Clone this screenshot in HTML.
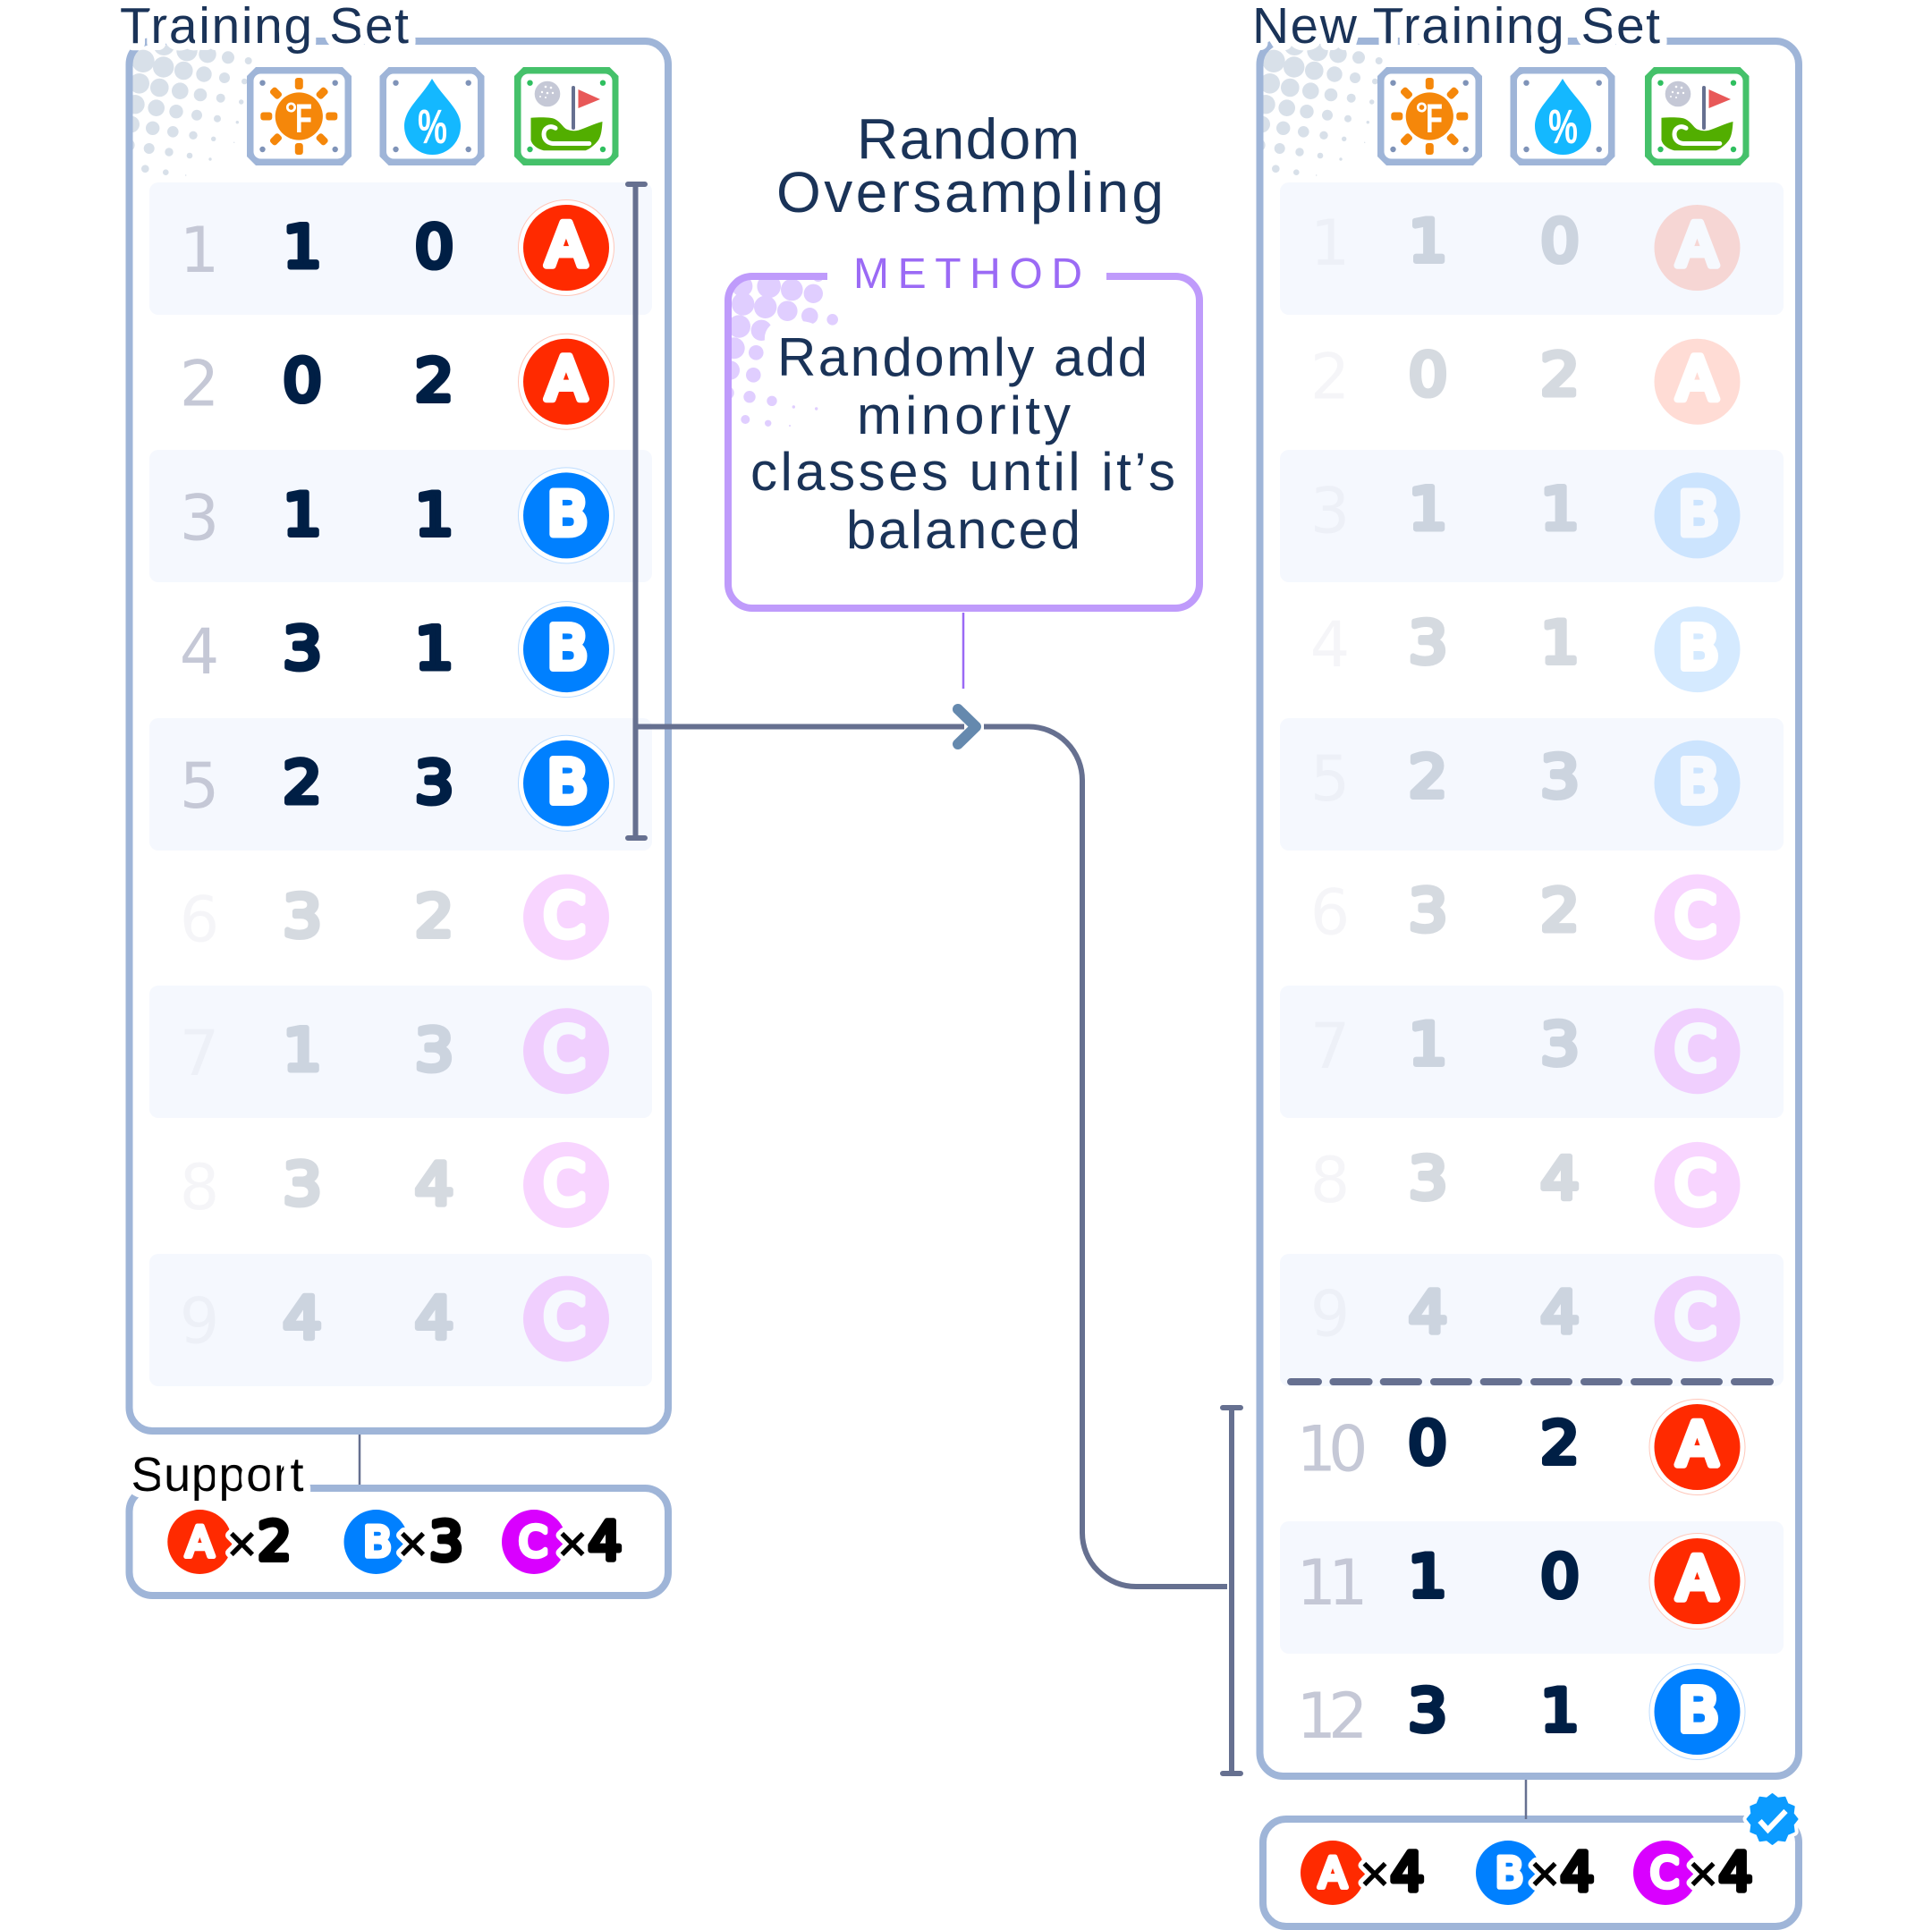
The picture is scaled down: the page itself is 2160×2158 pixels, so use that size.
<!DOCTYPE html>
<html><head><meta charset="utf-8"><style>
html,body{margin:0;padding:0;background:#fff}
svg{display:block}
.n{font:normal 65px "DejaVu Sans",sans-serif;fill:#001f45;stroke:#001f45;stroke-width:6;stroke-linejoin:round;text-anchor:middle;transform-box:fill-box;transform-origin:center;transform:scaleX(1.06)}
.i{font:normal 70px "DejaVu Sans",sans-serif;fill:#c5c8d6;text-anchor:middle}
.w{letter-spacing:-9px}
.l{font:normal 66px "DejaVu Sans",sans-serif;fill:#fff;stroke:#fff;stroke-width:8;stroke-linejoin:round;text-anchor:middle}
.s{font:normal 46px "DejaVu Sans",sans-serif;fill:#fff;stroke:#fff;stroke-width:5.5;stroke-linejoin:round;text-anchor:middle}
.t{font:normal 57px "Liberation Sans",sans-serif;fill:#1a3358;paint-order:stroke;stroke:#fff;stroke-width:16;stroke-linejoin:round}
.h{font:normal 64px "Liberation Sans",sans-serif;fill:#1a3358;paint-order:stroke;stroke:#fff;stroke-width:8;stroke-linejoin:round}
.b{font:normal 60px "Liberation Sans",sans-serif;fill:#fff;stroke:#fff;stroke-width:38;stroke-linejoin:round}
.f{font:normal 60px "Liberation Sans",sans-serif;fill:#1a3358}
.x{font:bold 46px "DejaVu Sans",sans-serif;fill:#000;paint-order:stroke;stroke:#fff;stroke-width:10;stroke-linejoin:round;text-anchor:middle}
.c{font:normal 60px "DejaVu Sans",sans-serif;fill:#000;stroke:#000;stroke-width:6;stroke-linejoin:round;text-anchor:middle}
.band{fill:#f5f8fe}
.panel{fill:none;stroke:#9fb5d8;stroke-width:8}
.ra{fill:#fff;stroke:#ffc8bb;stroke-width:1}
.rb{fill:#fff;stroke:#bcdcff;stroke-width:1}
</style></head><body>
<svg xmlns="http://www.w3.org/2000/svg" width="2160" height="2158" viewBox="0 0 2160 2158">
<defs>
<clipPath id="dc"><rect x="141" y="40" width="150" height="165"/></clipPath>
<clipPath id="mc"><rect x="812" y="306" width="140" height="190"/></clipPath>
</defs>
<rect width="2160" height="2158" fill="#fff"/>

<!-- bands -->
<rect class="band" x="167" y="204" width="562" height="148" rx="10"/>
<rect class="band" x="167" y="503" width="562" height="148" rx="10"/>
<rect class="band" x="167" y="803" width="562" height="148" rx="10"/>
<rect class="band" x="167" y="1102" width="562" height="148" rx="10"/>
<rect class="band" x="167" y="1402" width="562" height="148" rx="10"/>
<rect class="band" x="1431" y="204" width="563" height="148" rx="10"/>
<rect class="band" x="1431" y="503" width="563" height="148" rx="10"/>
<rect class="band" x="1431" y="803" width="563" height="148" rx="10"/>
<rect class="band" x="1431" y="1102" width="563" height="148" rx="10"/>
<rect class="band" x="1431" y="1402" width="563" height="148" rx="10"/>
<rect class="band" x="1431" y="1701" width="563" height="148" rx="10"/>

<!-- halftone dots left -->
<g fill="#d8e0e9" clip-path="url(#dc)">
<circle cx="160" cy="68.3" r="12.7"/><circle cx="182.7" cy="75" r="11.7"/><circle cx="205.3" cy="79" r="10.3"/><circle cx="228" cy="83" r="8.7"/><circle cx="251" cy="87" r="6"/><circle cx="273.3" cy="91" r="3.3"/><circle cx="209" cy="56.7" r="11.7"/><circle cx="232" cy="60.7" r="9.7"/><circle cx="255" cy="64.3" r="7"/><circle cx="277.7" cy="68" r="4"/><circle cx="183.3" cy="50" r="12"/><circle cx="155.7" cy="93.3" r="11.3"/><circle cx="178.3" cy="98" r="10.3"/><circle cx="201.3" cy="101.7" r="9.3"/><circle cx="224" cy="106" r="7.3"/><circle cx="246.7" cy="109.7" r="5"/><circle cx="269.7" cy="114" r="2.7"/><circle cx="151" cy="116.7" r="10.7"/><circle cx="174.7" cy="120.7" r="9.3"/><circle cx="197" cy="124.7" r="7.7"/><circle cx="220" cy="128.7" r="6"/><circle cx="243" cy="132.7" r="4"/><circle cx="265.3" cy="136.7" r="1.7"/><circle cx="146.7" cy="139" r="9.3"/><circle cx="170.7" cy="143.3" r="7.7"/><circle cx="193.3" cy="147.3" r="6.3"/><circle cx="216" cy="151.3" r="4.7"/><circle cx="238.7" cy="155.3" r="2.7"/><circle cx="261.7" cy="159.3" r=".7"/><circle cx="143.3" cy="162.3" r="7.3"/><circle cx="166.7" cy="166" r="6"/><circle cx="189" cy="170" r="4.7"/><circle cx="212" cy="174" r="3.3"/><circle cx="235" cy="178" r="1.7"/><circle cx="162.3" cy="188.7" r="4.3"/><circle cx="185.3" cy="192.7" r="3.3"/><circle cx="207.7" cy="196" r=".7"/>
</g>
<g transform="translate(1264 0)"><g fill="#d8e0e9" clip-path="url(#dc)">
<circle cx="160" cy="68.3" r="12.7"/><circle cx="182.7" cy="75" r="11.7"/><circle cx="205.3" cy="79" r="10.3"/><circle cx="228" cy="83" r="8.7"/><circle cx="251" cy="87" r="6"/><circle cx="273.3" cy="91" r="3.3"/><circle cx="209" cy="56.7" r="11.7"/><circle cx="232" cy="60.7" r="9.7"/><circle cx="255" cy="64.3" r="7"/><circle cx="277.7" cy="68" r="4"/><circle cx="183.3" cy="50" r="12"/><circle cx="155.7" cy="93.3" r="11.3"/><circle cx="178.3" cy="98" r="10.3"/><circle cx="201.3" cy="101.7" r="9.3"/><circle cx="224" cy="106" r="7.3"/><circle cx="246.7" cy="109.7" r="5"/><circle cx="269.7" cy="114" r="2.7"/><circle cx="151" cy="116.7" r="10.7"/><circle cx="174.7" cy="120.7" r="9.3"/><circle cx="197" cy="124.7" r="7.7"/><circle cx="220" cy="128.7" r="6"/><circle cx="243" cy="132.7" r="4"/><circle cx="265.3" cy="136.7" r="1.7"/><circle cx="146.7" cy="139" r="9.3"/><circle cx="170.7" cy="143.3" r="7.7"/><circle cx="193.3" cy="147.3" r="6.3"/><circle cx="216" cy="151.3" r="4.7"/><circle cx="238.7" cy="155.3" r="2.7"/><circle cx="261.7" cy="159.3" r=".7"/><circle cx="143.3" cy="162.3" r="7.3"/><circle cx="166.7" cy="166" r="6"/><circle cx="189" cy="170" r="4.7"/><circle cx="212" cy="174" r="3.3"/><circle cx="235" cy="178" r="1.7"/><circle cx="162.3" cy="188.7" r="4.3"/><circle cx="185.3" cy="192.7" r="3.3"/><circle cx="207.7" cy="196" r=".7"/>
</g></g>

<!-- panels -->
<rect class="panel" x="144.5" y="46" width="602.5" height="1554" rx="26"/>
<rect class="panel" x="144.5" y="1664" width="602.5" height="120" rx="26"/>
<rect class="panel" x="1408.5" y="46" width="602.5" height="1940" rx="26"/>
<rect class="panel" x="1412" y="2034" width="599" height="120" rx="26"/>
<path d="M402 1604V1660M1706 1990V2034" stroke="#667090" stroke-width="2.5" fill="none"/>

<!-- titles -->
<text class="t" x="134" y="48" textLength="323">Training Set</text>
<text class="t" x="1400" y="48" textLength="456">New Training Set</text>
<text class="t" x="146.5" y="1667" textLength="193" style="font-size:54px;fill:#000">Support</text>

<!-- icons left -->
<g>
<path fill="#9fb5d8" d="M286 75H383L393 85V175L383 185H286L276 175V85Z"/>
<rect x="283.5" y="82.5" width="102" height="95" rx="8" fill="#fff"/>
<g fill="#7f93b8"><circle cx="293.5" cy="92.7" r="3.2"/><circle cx="374.7" cy="92.7" r="3.2"/><circle cx="293.5" cy="167" r="3.2"/><circle cx="374.7" cy="167" r="3.2"/></g>
<g fill="#f5870a"><circle cx="334.3" cy="130" r="26.6"/>
<rect x="-4.5" y="-43" width="9" height="13" rx="3" transform="translate(334.3 130)"/>
<rect x="-4.5" y="-43" width="9" height="13" rx="3" transform="translate(334.3 130) rotate(45)"/>
<rect x="-4.5" y="-43" width="9" height="13" rx="3" transform="translate(334.3 130) rotate(90)"/>
<rect x="-4.5" y="-43" width="9" height="13" rx="3" transform="translate(334.3 130) rotate(135)"/>
<rect x="-4.5" y="-43" width="9" height="13" rx="3" transform="translate(334.3 130) rotate(180)"/>
<rect x="-4.5" y="-43" width="9" height="13" rx="3" transform="translate(334.3 130) rotate(225)"/>
<rect x="-4.5" y="-43" width="9" height="13" rx="3" transform="translate(334.3 130) rotate(270)"/>
<rect x="-4.5" y="-43" width="9" height="13" rx="3" transform="translate(334.3 130) rotate(315)"/></g>
<text x="317" y="140" style="font:bold 34px 'DejaVu Sans',sans-serif" fill="#fff">°</text>
<text x="330" y="148" style="font:bold 45px 'Liberation Sans',sans-serif" fill="#fff" textLength="19" lengthAdjust="spacingAndGlyphs">F</text>
<path fill="#9fb5d8" d="M434.5 75H531.5L541.5 85V175L531.5 185H434.5L424.5 175V85Z"/>
<rect x="432" y="82.5" width="102" height="95" rx="8" fill="#fff"/>
<g fill="#7f93b8"><circle cx="442.5" cy="92.7" r="3.2"/><circle cx="523.7" cy="92.7" r="3.2"/><circle cx="442.5" cy="167" r="3.2"/><circle cx="523.7" cy="167" r="3.2"/></g>
<path fill="#14b8ff" d="M483 88C470 110 452 122 452 141A31.5 32 0 0 0 515 141C515 122 496 110 483 88Z"/>
<text x="467" y="160" style="font:bold 54px 'Liberation Sans',sans-serif" fill="#fff" textLength="33" lengthAdjust="spacingAndGlyphs">%</text>
<path fill="#45c16a" d="M585 75H681.5L691.5 85V175L681.5 185H585L575 175V85Z"/>
<rect x="582.5" y="82.5" width="102" height="95" rx="8" fill="#fff"/>
<g fill="#2fbf5f"><circle cx="592.5" cy="92.7" r="3.2"/><circle cx="674" cy="92.7" r="3.2"/><circle cx="592.5" cy="167" r="3.2"/><circle cx="674" cy="167" r="3.2"/></g>
<circle cx="612" cy="105" r="14.3" fill="#c5c8d6"/>
<g fill="#fff"><circle cx="610" cy="97" r="1.3"/><circle cx="616" cy="98" r="1.3"/><circle cx="606" cy="103" r="1.2"/><circle cx="612" cy="104" r="1.3"/><circle cx="618" cy="104" r="1.2"/><circle cx="604" cy="108" r="1"/><circle cx="610" cy="109" r="1"/></g>
<path fill="#52ae00" d="M593.5 131.7C605 131 615 131 620 133C628 137 630 144 635 145C640 147 644 146 646.5 145.7C655 143 665 138 673.5 136C673 145 672 152 669 156.7C665 162 660 166 654.7 168.3H607.8C600 166 595 162 593.5 156.7Z"/>
<path fill="none" stroke="#fff" stroke-width="5" stroke-linecap="round" d="M621 143.3C614 139 608 144 608 150C608 156 612 160 618 160.5H658.8"/>
<rect x="639" y="96" width="4" height="49" rx="2" fill="#667090"/>
<path fill="#e85858" d="M646.5 100L671 111L646.5 121Z"/>
</g>
<!-- icons right -->
<g transform="translate(1264 0)">
<path fill="#9fb5d8" d="M286 75H383L393 85V175L383 185H286L276 175V85Z"/>
<rect x="283.5" y="82.5" width="102" height="95" rx="8" fill="#fff"/>
<g fill="#7f93b8"><circle cx="293.5" cy="92.7" r="3.2"/><circle cx="374.7" cy="92.7" r="3.2"/><circle cx="293.5" cy="167" r="3.2"/><circle cx="374.7" cy="167" r="3.2"/></g>
<g fill="#f5870a"><circle cx="334.3" cy="130" r="26.6"/>
<rect x="-4.5" y="-43" width="9" height="13" rx="3" transform="translate(334.3 130)"/>
<rect x="-4.5" y="-43" width="9" height="13" rx="3" transform="translate(334.3 130) rotate(45)"/>
<rect x="-4.5" y="-43" width="9" height="13" rx="3" transform="translate(334.3 130) rotate(90)"/>
<rect x="-4.5" y="-43" width="9" height="13" rx="3" transform="translate(334.3 130) rotate(135)"/>
<rect x="-4.5" y="-43" width="9" height="13" rx="3" transform="translate(334.3 130) rotate(180)"/>
<rect x="-4.5" y="-43" width="9" height="13" rx="3" transform="translate(334.3 130) rotate(225)"/>
<rect x="-4.5" y="-43" width="9" height="13" rx="3" transform="translate(334.3 130) rotate(270)"/>
<rect x="-4.5" y="-43" width="9" height="13" rx="3" transform="translate(334.3 130) rotate(315)"/></g>
<text x="317" y="140" style="font:bold 34px 'DejaVu Sans',sans-serif" fill="#fff">°</text>
<text x="330" y="148" style="font:bold 45px 'Liberation Sans',sans-serif" fill="#fff" textLength="19" lengthAdjust="spacingAndGlyphs">F</text>
<path fill="#9fb5d8" d="M434.5 75H531.5L541.5 85V175L531.5 185H434.5L424.5 175V85Z"/>
<rect x="432" y="82.5" width="102" height="95" rx="8" fill="#fff"/>
<g fill="#7f93b8"><circle cx="442.5" cy="92.7" r="3.2"/><circle cx="523.7" cy="92.7" r="3.2"/><circle cx="442.5" cy="167" r="3.2"/><circle cx="523.7" cy="167" r="3.2"/></g>
<path fill="#14b8ff" d="M483 88C470 110 452 122 452 141A31.5 32 0 0 0 515 141C515 122 496 110 483 88Z"/>
<text x="467" y="160" style="font:bold 54px 'Liberation Sans',sans-serif" fill="#fff" textLength="33" lengthAdjust="spacingAndGlyphs">%</text>
<path fill="#45c16a" d="M585 75H681.5L691.5 85V175L681.5 185H585L575 175V85Z"/>
<rect x="582.5" y="82.5" width="102" height="95" rx="8" fill="#fff"/>
<g fill="#2fbf5f"><circle cx="592.5" cy="92.7" r="3.2"/><circle cx="674" cy="92.7" r="3.2"/><circle cx="592.5" cy="167" r="3.2"/><circle cx="674" cy="167" r="3.2"/></g>
<circle cx="612" cy="105" r="14.3" fill="#c5c8d6"/>
<g fill="#fff"><circle cx="610" cy="97" r="1.3"/><circle cx="616" cy="98" r="1.3"/><circle cx="606" cy="103" r="1.2"/><circle cx="612" cy="104" r="1.3"/><circle cx="618" cy="104" r="1.2"/><circle cx="604" cy="108" r="1"/><circle cx="610" cy="109" r="1"/></g>
<path fill="#52ae00" d="M593.5 131.7C605 131 615 131 620 133C628 137 630 144 635 145C640 147 644 146 646.5 145.7C655 143 665 138 673.5 136C673 145 672 152 669 156.7C665 162 660 166 654.7 168.3H607.8C600 166 595 162 593.5 156.7Z"/>
<path fill="none" stroke="#fff" stroke-width="5" stroke-linecap="round" d="M621 143.3C614 139 608 144 608 150C608 156 612 160 618 160.5H658.8"/>
<rect x="639" y="96" width="4" height="49" rx="2" fill="#667090"/>
<path fill="#e85858" d="M646.5 100L671 111L646.5 121Z"/>
</g>

<!-- left rows 1-5 -->
<text class="i" x="223" y="304">1</text><text class="n" x="338" y="298.5">1</text><text class="n" x="485.5" y="298.5">0</text>
<circle class="ra" cx="633" cy="277" r="53.5"/><circle cx="633" cy="277" r="48" fill="#ff2a00"/><text class="l" x="633" y="297">A</text>
<text class="i" x="223" y="453.7">2</text><text class="n" x="338" y="448.2">0</text><text class="n" x="485.5" y="448.2">2</text>
<circle class="ra" cx="633" cy="426.7" r="53.5"/><circle cx="633" cy="426.7" r="48" fill="#ff2a00"/><text class="l" x="633" y="446.7">A</text>
<text class="i" x="223" y="603.4">3</text><text class="n" x="338" y="597.9">1</text><text class="n" x="485.5" y="597.9">1</text>
<circle class="rb" cx="633" cy="576.4" r="53.5"/><circle cx="633" cy="576.4" r="48" fill="#0080ff"/><text class="l" x="634.5" y="597.4">B</text>
<text class="i" x="223" y="753.1">4</text><text class="n" x="338" y="747.6">3</text><text class="n" x="485.5" y="747.6">1</text>
<circle class="rb" cx="633" cy="726.1" r="53.5"/><circle cx="633" cy="726.1" r="48" fill="#0080ff"/><text class="l" x="634.5" y="747.1">B</text>
<text class="i" x="223" y="902.8">5</text><text class="n" x="338" y="897.3">2</text><text class="n" x="485.5" y="897.3">3</text>
<circle class="rb" cx="633" cy="875.8" r="53.5"/><circle cx="633" cy="875.8" r="48" fill="#0080ff"/><text class="l" x="634.5" y="896.8">B</text>

<!-- left rows 6-9 faded -->
<g opacity=".16">
<text class="i" x="223" y="1052.5">6</text><text class="n" x="338" y="1047">3</text><text class="n" x="485.5" y="1047">2</text>
<circle cx="633" cy="1025.5" r="48" fill="#d900ff"/><text class="l" x="631" y="1046.5">C</text>
<text class="i" x="223" y="1202.2">7</text><text class="n" x="338" y="1196.7">1</text><text class="n" x="485.5" y="1196.7">3</text>
<circle cx="633" cy="1175.2" r="48" fill="#d900ff"/><text class="l" x="631" y="1196.2">C</text>
<text class="i" x="223" y="1351.9">8</text><text class="n" x="338" y="1346.4">3</text><text class="n" x="485.5" y="1346.4">4</text>
<circle cx="633" cy="1324.9" r="48" fill="#d900ff"/><text class="l" x="631" y="1345.9">C</text>
<text class="i" x="223" y="1501.6">9</text><text class="n" x="338" y="1496.1">4</text><text class="n" x="485.5" y="1496.1">4</text>
<circle cx="633" cy="1474.6" r="48" fill="#d900ff"/><text class="l" x="631" y="1495.6">C</text>
</g>

<!-- right rows 1-9 faded -->
<g opacity=".16">
<text class="i" x="1487" y="296">1</text><text class="n" x="1596.5" y="292">1</text><text class="n" x="1744" y="292">0</text>
<circle cx="1897.5" cy="277" r="48" fill="#ff2a00"/><text class="l" x="1897.5" y="297">A</text>
<text class="i" x="1487" y="445.7">2</text><text class="n" x="1596.5" y="441.7">0</text><text class="n" x="1744" y="441.7">2</text>
<circle cx="1897.5" cy="426.7" r="48" fill="#ff2a00"/><text class="l" x="1897.5" y="446.7">A</text>
<text class="i" x="1487" y="595.4">3</text><text class="n" x="1596.5" y="591.4">1</text><text class="n" x="1744" y="591.4">1</text>
<circle cx="1897.5" cy="576.4" r="48" fill="#0080ff"/><text class="l" x="1899" y="597.4">B</text>
<text class="i" x="1487" y="745.1">4</text><text class="n" x="1596.5" y="741.1">3</text><text class="n" x="1744" y="741.1">1</text>
<circle cx="1897.5" cy="726.1" r="48" fill="#0080ff"/><text class="l" x="1899" y="747.1">B</text>
<text class="i" x="1487" y="894.8">5</text><text class="n" x="1596.5" y="890.8">2</text><text class="n" x="1744" y="890.8">3</text>
<circle cx="1897.5" cy="875.8" r="48" fill="#0080ff"/><text class="l" x="1899" y="896.8">B</text>
<text class="i" x="1487" y="1044.5">6</text><text class="n" x="1596.5" y="1040.5">3</text><text class="n" x="1744" y="1040.5">2</text>
<circle cx="1897.5" cy="1025.5" r="48" fill="#d900ff"/><text class="l" x="1895.5" y="1046.5">C</text>
<text class="i" x="1487" y="1194.2">7</text><text class="n" x="1596.5" y="1190.2">1</text><text class="n" x="1744" y="1190.2">3</text>
<circle cx="1897.5" cy="1175.2" r="48" fill="#d900ff"/><text class="l" x="1895.5" y="1196.2">C</text>
<text class="i" x="1487" y="1343.9">8</text><text class="n" x="1596.5" y="1339.9">3</text><text class="n" x="1744" y="1339.9">4</text>
<circle cx="1897.5" cy="1324.9" r="48" fill="#d900ff"/><text class="l" x="1895.5" y="1345.9">C</text>
<text class="i" x="1487" y="1493.6">9</text><text class="n" x="1596.5" y="1489.6">4</text><text class="n" x="1744" y="1489.6">4</text>
<circle cx="1897.5" cy="1474.6" r="48" fill="#d900ff"/><text class="l" x="1895.5" y="1495.6">C</text>
</g>

<!-- dashed separator -->
<path d="M1443 1545H1474M1490.4 1545H1530.6M1546.7 1545H1586M1603 1545H1642M1658.7 1545H1698M1715 1545H1754M1771 1545H1810M1827 1545H1866M1883 1545H1922M1939 1545H1979" stroke="#667090" stroke-width="8" stroke-linecap="round" fill="none"/>

<!-- right rows 10-12 -->
<text class="i w" x="1485" y="1644.5">10</text><text class="n" x="1596" y="1636">0</text><text class="n" x="1744" y="1636">2</text>
<circle class="ra" cx="1897.5" cy="1618" r="53.5"/><circle cx="1897.5" cy="1618" r="48" fill="#ff2a00"/><text class="l" x="1897.5" y="1638">A</text>
<text class="i w" x="1485" y="1794">11</text><text class="n" x="1596" y="1785">1</text><text class="n" x="1744" y="1785">0</text>
<circle class="ra" cx="1897.5" cy="1768" r="53.5"/><circle cx="1897.5" cy="1768" r="48" fill="#ff2a00"/><text class="l" x="1897.5" y="1788">A</text>
<text class="i w" x="1485" y="1943">12</text><text class="n" x="1596" y="1935">3</text><text class="n" x="1744" y="1935">1</text>
<circle class="rb" cx="1897.5" cy="1914" r="53.5"/><circle cx="1897.5" cy="1914" r="48" fill="#0080ff"/><text class="l" x="1899" y="1935">B</text>

<!-- connectors -->
<g fill="none" stroke="#667090" stroke-width="6" stroke-linecap="round">
<path d="M702 206H721M710.5 206V937M702 937H721"/>
<path d="M1367 1574H1387M1377 1574V1983M1367 1983H1387"/>
</g>
<g fill="none" stroke="#667090" stroke-width="6">
<path d="M713 812.5H1078"/>
<path d="M1100 812.5H1150A60 60 0 0 1 1210 872.5V1714A60 60 0 0 0 1270 1774H1372"/>
</g>
<path d="M1071 793L1091 812.5L1071 832" fill="none" stroke="#6589ae" stroke-width="12" stroke-linecap="round" stroke-linejoin="round"/>

<!-- method box -->
<g fill="#e0ceff" clip-path="url(#mc)">
<circle cx="830.7" cy="340" r="12.7"/><circle cx="855.7" cy="343.3" r="12.7"/><circle cx="880.3" cy="347.7" r="11.3"/><circle cx="905.3" cy="353.3" r="9.3"/><circle cx="930.7" cy="357.3" r="6.3"/><circle cx="859.7" cy="320" r="13.3"/><circle cx="885.3" cy="324" r="12.3"/><circle cx="909.3" cy="328.3" r="10.7"/><circle cx="914.7" cy="308.3" r="6.7"/><circle cx="829.7" cy="320" r="11.7"/><circle cx="826.3" cy="365" r="12.7"/><circle cx="851.3" cy="369.3" r="11.7"/><circle cx="820.7" cy="389.3" r="12"/><circle cx="845.3" cy="394.3" r="8.3"/><circle cx="816.3" cy="414" r="10.7"/><circle cx="842.3" cy="419.3" r="8.3"/><circle cx="813" cy="439.3" r="7.7"/><circle cx="838" cy="443.7" r="6.7"/><circle cx="863" cy="448.3" r="5.7"/><circle cx="887.3" cy="455" r="1.7"/><circle cx="912.7" cy="457" r="1.7"/><circle cx="833.3" cy="469" r="5"/><circle cx="858.7" cy="473.3" r="3.7"/><circle cx="883" cy="476" r="1"/>
</g>
<text class="b" x="869" y="420" textLength="414">Randomly add</text>
<text class="b" x="958" y="485" textLength="239">minority</text>
<text class="b" x="839" y="548" textLength="475">classes until it’s</text>
<text class="b" x="946" y="613" textLength="262">balanced</text>
<path d="M925 309H841A27 27 0 0 0 814 336V653A27 27 0 0 0 841 680H1314A27 27 0 0 0 1341 653V336A27 27 0 0 0 1314 309H1237" fill="none" stroke="#bf9bfb" stroke-width="8"/>
<text x="954" y="322" textLength="256" style="font:normal 48px 'Liberation Sans',sans-serif" fill="#9b6af5">METHOD</text>
<text class="f" x="869" y="420" textLength="414">Randomly add</text>
<text class="f" x="958" y="485" textLength="239">minority</text>
<text class="f" x="839" y="548" textLength="475">classes until it’s</text>
<text class="f" x="946" y="613" textLength="262">balanced</text>
<text class="h" x="958" y="177.5" textLength="249">Random</text>
<text class="h" x="868" y="237" textLength="433">Oversampling</text>
<path d="M1077 685V770" stroke="#9b6af5" stroke-width="2.5"/>

<!-- support left -->
<circle cx="223.3" cy="1724" r="36" fill="#ff2a00"/><text class="s" x="223.3" y="1740">A</text>
<circle cx="420.5" cy="1724" r="36" fill="#0080ff"/><text class="s" x="422" y="1740">B</text>
<circle cx="597" cy="1724" r="36" fill="#d900ff"/><text class="s" x="596" y="1740">C</text>
<text class="x" x="270.5" y="1741">×</text><text class="c" x="307" y="1744">2</text>
<text class="x" x="461.5" y="1741">×</text><text class="c" x="499" y="1744">3</text>
<text class="x" x="640" y="1741">×</text><text class="c" x="676.5" y="1744">4</text>

<!-- support right -->
<circle cx="1490" cy="2094" r="36" fill="#ff2a00"/><text class="s" x="1490" y="2110">A</text>
<circle cx="1686" cy="2094" r="36" fill="#0080ff"/><text class="s" x="1687.5" y="2110">B</text>
<circle cx="1862" cy="2094" r="36" fill="#d900ff"/><text class="s" x="1861" y="2110">C</text>
<text class="x" x="1537" y="2110">×</text><text class="c" x="1573.5" y="2114">4</text>
<text class="x" x="1727" y="2110">×</text><text class="c" x="1763.5" y="2114">4</text>
<text class="x" x="1904" y="2110">×</text><text class="c" x="1940.5" y="2114">4</text>

<!-- verified badge -->
<g transform="translate(1981.5 2034)">
<polygon points="28,0 23.2,6.2 24.2,14 17,17 14,24.2 6.2,23.2 0,28 -6.2,23.2 -14,24.2 -17,17 -24.2,14 -23.2,6.2 -28,0 -23.2,-6.2 -24.2,-14 -17,-17 -14,-24.2 -6.2,-23.2 0,-28 6.2,-23.2 14,-24.2 17,-17 24.2,-14 23.2,-6.2" fill="#fff" stroke="#fff" stroke-width="10" stroke-linejoin="round"/>
<polygon points="28,0 23.2,6.2 24.2,14 17,17 14,24.2 6.2,23.2 0,28 -6.2,23.2 -14,24.2 -17,17 -24.2,14 -23.2,6.2 -28,0 -23.2,-6.2 -24.2,-14 -17,-17 -14,-24.2 -6.2,-23.2 0,-28 6.2,-23.2 14,-24.2 17,-17 24.2,-14 23.2,-6.2" fill="#0b9bff" stroke="#0b9bff" stroke-width="2" stroke-linejoin="round"/>
<path d="M-14 2L-5 12L15 -9" fill="none" stroke="#fff" stroke-width="6"/>
</g>
</svg>
</body></html>
